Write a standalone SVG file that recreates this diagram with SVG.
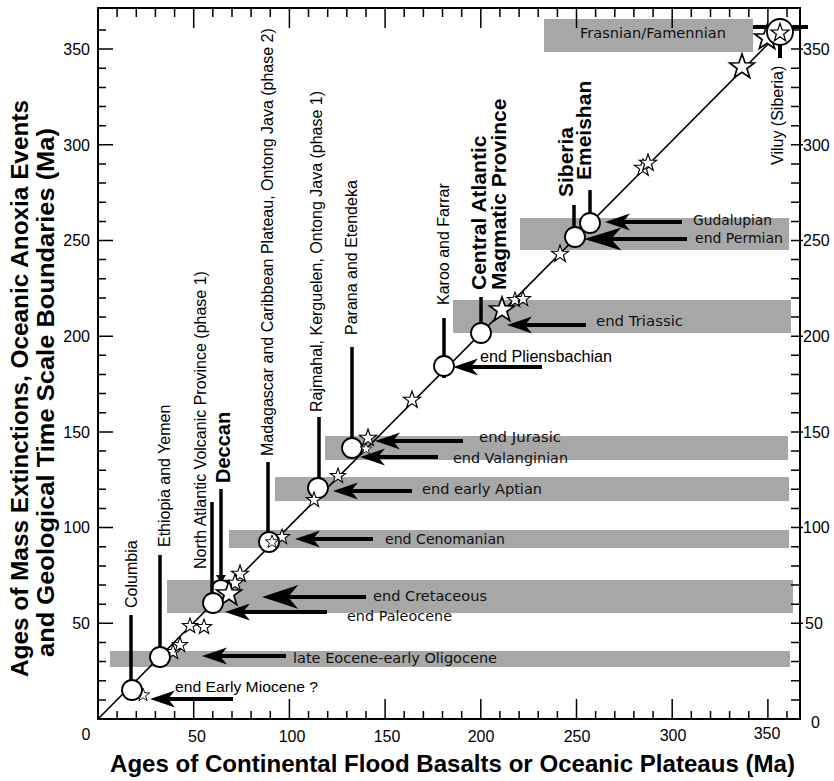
<svg xmlns="http://www.w3.org/2000/svg" xmlns:xlink="http://www.w3.org/1999/xlink" width="834" height="781" viewBox="0 0 834 781">
<style>
.band{fill:#a7a7a7}
.ax{fill:none;stroke:#000;stroke-width:2}
.tk{fill:none;stroke:#000;stroke-width:1.5}
.num{font-family:"Liberation Sans",Arial,sans-serif;font-size:16px;fill:#000}
.title{font-family:"Liberation Sans",Arial,sans-serif;font-size:24px;font-weight:bold;fill:#000}
.vl{font-family:"Liberation Sans",Arial,sans-serif;font-size:16px;fill:#000}
.vb{font-family:"Liberation Sans",Arial,sans-serif;font-size:21px;font-weight:bold;fill:#000}
.bl{font-family:"DejaVu Sans",Verdana,sans-serif;font-size:14.5px;fill:#111}
.hl{font-family:"Liberation Sans",Arial,sans-serif;font-size:16px;fill:#000}
.mk{stroke:#000;stroke-width:3.5;fill:none}
.diag{stroke:#000;stroke-width:1.6;fill:none}
.c{fill:#fff;stroke:#000;stroke-width:1.8}
.st{fill:#fff;stroke:#000;stroke-width:1.3;stroke-linejoin:miter}
.shaft{stroke:#000;stroke-width:4;fill:none}
.head{fill:#000}
</style>
<defs>
<path id="star" d="M0,-10 L2.35,-3.24 L9.51,-3.09 L3.8,1.24 L5.88,8.09 L0,4 L-5.88,8.09 L-3.8,1.24 L-9.51,-3.09 L-2.35,-3.24 Z"/>
<path id="ah" d="M0,0 Q12,-4 25,-8.5 L18,0 L25,8.5 Q12,4 0,0 Z"/>
</defs>

<g id="bands">
<rect class="band" x="544" y="19" width="209" height="33"/>
<rect class="band" x="520" y="218" width="269" height="32"/>
<rect class="band" x="453" y="300" width="338" height="33"/>
<rect class="band" x="325" y="436" width="463" height="24"/>
<rect class="band" x="275" y="477" width="514" height="24"/>
<rect class="band" x="229" y="530" width="560" height="18"/>
<rect class="band" x="167" y="580" width="626" height="33"/>
<rect class="band" x="110" y="651" width="680" height="16"/>
</g>

<g id="axes">
<path class="ax" d="M98,8 V719 H800 V8 Z"/>
<path class="tk" d="M98,699.9h8M98,680.7h8M98,661.6h8M98,642.4h8M98,623.3h15M98,604.2h8M98,585h8M98,565.9h8M98,546.7h8M98,527.6h15M98,508.5h8M98,489.3h8M98,470.2h8M98,451h8M98,431.9h15M98,412.8h8M98,393.6h8M98,374.5h8M98,355.3h8M98,336.2h15M98,317.1h8M98,297.9h8M98,278.8h8M98,259.6h8M98,240.5h15M98,221.4h8M98,202.2h8M98,183.1h8M98,163.9h8M98,144.8h15M98,125.7h8M98,106.5h8M98,87.4h8M98,68.2h8M98,49.1h15M98,30h8"/>
<path class="tk" d="M800,699.9h-9M800,680.7h-9M800,661.6h-9M800,642.4h-9M803,623.3h-12M800,604.2h-9M800,585h-9M800,565.9h-9M800,546.7h-9M803,527.6h-12M800,508.5h-9M800,489.3h-9M800,470.2h-9M800,451h-9M803,431.9h-12M800,412.8h-9M800,393.6h-9M800,374.5h-9M800,355.3h-9M803,336.2h-12M800,317.1h-9M800,297.9h-9M800,278.8h-9M800,259.6h-9M803,240.5h-12M800,221.4h-9M800,202.2h-9M800,183.1h-9M800,163.9h-9M803,144.8h-12M800,125.7h-9M800,106.5h-9M800,87.4h-9M800,68.2h-9M803,49.1h-12M800,30h-9"/>
<path class="tk" d="M117.1,719v-8M136.3,719v-8M155.4,719v-8M174.6,719v-8M193.7,719v-20M212.8,719v-8M232,719v-8M251.1,719v-8M270.3,719v-8M289.4,719v-20M308.5,719v-8M327.7,719v-8M346.8,719v-8M366,719v-8M385.1,719v-20M404.2,719v-8M423.4,719v-8M442.5,719v-8M461.7,719v-8M480.8,719v-20M499.9,719v-8M519.1,719v-8M538.2,719v-8M557.4,719v-8M576.5,719v-20M595.6,719v-8M614.8,719v-8M633.9,719v-8M653.1,719v-8M672.2,719v-20M691.3,719v-8M710.5,719v-8M729.6,719v-8M748.8,719v-8M767.9,719v-20M787,719v-8"/>
<path class="tk" d="M117.1,8v9M136.3,8v9M155.4,8v9M174.6,8v9M193.7,8v20M212.8,8v9M232,8v9M251.1,8v9M270.3,8v9M289.4,8v20M308.5,8v9M327.7,8v9M346.8,8v9M366,8v9M385.1,8v20M404.2,8v9M423.4,8v9M442.5,8v9M461.7,8v9M480.8,8v20M499.9,8v9M519.1,8v9M538.2,8v9M557.4,8v9M576.5,8v20M595.6,8v9M614.8,8v9M633.9,8v9M653.1,8v9M672.2,8v20M691.3,8v9M710.5,8v9M729.6,8v9M748.8,8v9M767.9,8v20M787,8v9"/>
<g class="num" text-anchor="end">
<text x="90" y="55">350</text><text x="90" y="151">300</text><text x="90" y="246">250</text><text x="90" y="342">200</text><text x="90" y="438">150</text><text x="90" y="533">100</text><text x="90" y="629">50</text>
</g>
<text class="num" x="86" y="740" text-anchor="middle">0</text>
<g class="num">
<text x="803" y="55">350</text><text x="803" y="151">300</text><text x="803" y="246">250</text><text x="803" y="342">200</text><text x="803" y="438">150</text><text x="803" y="533">100</text><text x="805" y="629">50</text><text x="811" y="728">0</text>
</g>
<g class="num" text-anchor="middle">
<text x="197" y="742">50</text><text x="292" y="742">100</text><text x="387" y="742">150</text><text x="481" y="742">200</text><text x="577" y="742">250</text><text x="673" y="741">300</text><text x="767" y="739">350</text>
</g>
<text class="title" x="110" y="772" textLength="685" lengthAdjust="spacingAndGlyphs">Ages of Continental Flood Basalts or Oceanic Plateaus (Ma)</text>
<text class="title" transform="translate(28,388.5) rotate(-90)" text-anchor="middle" textLength="577" lengthAdjust="spacingAndGlyphs">Ages of Mass Extinctions, Oceanic Anoxia Events</text>
<text class="title" transform="translate(54,392.5) rotate(-90)" text-anchor="middle" textLength="529" lengthAdjust="spacingAndGlyphs">and Geological Time Scale Boundaries (Ma)</text>
</g>

<g id="trend">
<line class="diag" x1="98" y1="719" x2="780" y2="32"/>
</g>

<g id="stars-back">
<use href="#star" class="st" transform="translate(143,695) scale(0.7)"/>
<use href="#star" class="st" transform="translate(173,652) scale(0.8)"/>
<use href="#star" class="st" transform="translate(180,645) scale(0.8)"/>
<use href="#star" class="st" transform="translate(190,626) scale(0.8)"/>
<use href="#star" class="st" transform="translate(204,627) scale(0.8)"/>
<use href="#star" class="st" transform="translate(240,574) scale(0.9)"/>
<use href="#star" class="st" transform="translate(235,583) scale(0.9)"/>
<use href="#star" class="st" transform="translate(282,537) scale(0.8)"/>
<use href="#star" class="st" transform="translate(338,476) scale(0.8)"/>
<use href="#star" class="st" transform="translate(412,400) scale(0.9)"/>
<use href="#star" class="st" transform="translate(515,300) scale(0.8)"/>
<use href="#star" class="st" transform="translate(523,299) scale(0.8)"/>
<use href="#star" class="st" transform="translate(560,254) scale(0.9)"/>
<use href="#star" class="st" transform="translate(643,168) scale(0.9)"/>
<use href="#star" class="st" transform="translate(648,163) scale(0.9)"/>
<use href="#star" class="st" transform="translate(742,67) scale(1.3)"/>
<use href="#star" class="st" transform="translate(767,38) scale(1.3)"/>
</g>

<g id="columbia">
<line class="mk" x1="131" y1="615" x2="131" y2="682"/>
<circle class="c" cx="132" cy="690" r="10"/>
<text class="vl" transform="translate(137,608) rotate(-90)">Columbia</text>
</g>
<g id="ethiopia">
<line class="mk" x1="160" y1="555" x2="160" y2="649"/>
<circle class="c" cx="160" cy="657" r="10"/>
<text class="vl" transform="translate(170,547) rotate(-90)">Ethiopia and Yemen</text>
</g>
<g id="deccan">
<line class="mk" x1="221" y1="489" x2="221" y2="576"/>
<path d="M216,575 L226,575 L221,583 Z" fill="#000"/>
<circle class="c" cx="221" cy="589" r="9"/>
<use href="#star" class="st" transform="translate(229,594) scale(1.3)"/>
<text class="vb" style="font-size:20px" transform="translate(230,483) rotate(-90)">Deccan</text>
</g>
<g id="navp">
<line class="mk" x1="212" y1="502" x2="212" y2="595"/>
<circle class="c" cx="213" cy="603" r="10"/>
<text class="vl" transform="translate(206,569) rotate(-90)">North Atlantic Volcanic Province (phase 1)</text>
</g>
<g id="madagascar">
<line class="mk" x1="268" y1="462" x2="268" y2="534"/>
<circle class="c" cx="269" cy="542" r="10"/>
<use href="#star" class="st" transform="translate(272,542) scale(0.7)"/>
<text class="vl" transform="translate(273,456) rotate(-90)">Madagascar and Caribbean Plateau, Ontong Java (phase 2)</text>
</g>
<g id="rajmahal">
<line class="mk" x1="319" y1="417" x2="319" y2="480"/>
<circle class="c" cx="318" cy="488" r="10"/>
<use href="#star" class="st" transform="translate(314,500) scale(0.8)"/>
<text class="vl" transform="translate(322,412) rotate(-90)">Rajmahal, Kerguelen, Ontong Java (phase 1)</text>
</g>
<g id="parana">
<line class="mk" x1="352" y1="347" x2="352" y2="440"/>
<circle class="c" cx="352" cy="448" r="10"/>
<use href="#star" class="st" transform="translate(368,438) scale(0.9)"/>
<use href="#star" class="st" transform="translate(366,449) scale(0.6)"/>
<text class="vl" transform="translate(357,335) rotate(-90)">Parana and Etendeka</text>
</g>
<g id="karoo">
<line class="mk" x1="444" y1="318" x2="444" y2="378"/>
<circle class="c" cx="444" cy="366" r="10"/>
<text class="vl" transform="translate(449,305) rotate(-90)">Karoo and Farrar</text>
</g>
<g id="camp">
<line class="mk" x1="481" y1="297" x2="481" y2="325"/>
<circle class="c" cx="481" cy="333" r="10"/>
<use href="#star" class="st" transform="translate(502,310) scale(1.3)"/>
<text class="vb" transform="translate(486,290) rotate(-90)">Central Atlantic</text>
<text class="vb" transform="translate(506,290) rotate(-90)">Magmatic Province</text>
</g>
<g id="emeishan">
<line class="mk" x1="590" y1="190" x2="590" y2="215"/>
<circle class="c" cx="590" cy="223" r="10"/>
<text class="vb" transform="translate(591,180) rotate(-90)">Emeishan</text>
</g>
<g id="siberia">
<line class="mk" x1="574" y1="205" x2="574" y2="229"/>
<circle class="c" cx="575" cy="237" r="10"/>
<text class="vb" transform="translate(573,197) rotate(-90)">Siberia</text>
</g>
<g id="viluy">
<line class="mk" style="stroke-width:4" x1="753" y1="27" x2="808" y2="27"/>
<line class="mk" style="stroke-width:4" x1="780" y1="40" x2="780" y2="58"/>
<circle class="c" cx="780" cy="32" r="13"/>
<use href="#star" class="st" transform="translate(780,33) scale(0.95)"/>
<text class="vl" transform="translate(783,165) rotate(-90)">Viluy (Siberia)</text>
</g>

<g id="connectors">
<line class="shaft" x1="165" y1="699" x2="233" y2="699"/><use href="#ah" class="head" x="150" y="699"/>
<line class="shaft" x1="217" y1="656" x2="286" y2="656"/><use href="#ah" class="head" x="202" y="656"/>
<line class="shaft" x1="240" y1="612" x2="327" y2="612"/><use href="#ah" class="head" x="225" y="612"/>
<line class="shaft" x1="285" y1="597" x2="366" y2="597"/><use href="#ah" class="head" transform="translate(262,597) scale(1.45,1.4)"/>
<line class="shaft" x1="310" y1="539" x2="373" y2="539"/><use href="#ah" class="head" x="295" y="539"/>
<line class="shaft" x1="348" y1="491" x2="412" y2="491"/><use href="#ah" class="head" x="333" y="491"/>
<line class="shaft" x1="375" y1="457" x2="438" y2="457"/><use href="#ah" class="head" x="360" y="457"/>
<line class="shaft" x1="390" y1="441" x2="463" y2="441"/><use href="#ah" class="head" x="375" y="441"/>
<line class="shaft" x1="468" y1="367" x2="542" y2="367"/><use href="#ah" class="head" x="453" y="367"/>
<line class="shaft" x1="522" y1="325" x2="586" y2="325"/><use href="#ah" class="head" x="507" y="325"/>
<line class="shaft" x1="620" y1="222" x2="682" y2="222"/><use href="#ah" class="head" x="605" y="222"/>
<line class="shaft" x1="606" y1="239" x2="687" y2="239"/><use href="#ah" class="head" transform="translate(584,239) scale(1.5,1.35)"/>
</g>

<g id="band-labels">
<text class="bl" x="580" y="38" textLength="146" lengthAdjust="spacingAndGlyphs">Frasnian/Famennian</text>
<text class="bl" x="693" y="225" textLength="79" lengthAdjust="spacingAndGlyphs">Gudalupian</text>
<text class="bl" x="695" y="243" textLength="88" lengthAdjust="spacingAndGlyphs">end Permian</text>
<text class="bl" x="596" y="326" textLength="87" lengthAdjust="spacingAndGlyphs">end Triassic</text>
<text class="hl" x="480" y="362" textLength="132" lengthAdjust="spacingAndGlyphs">end Pliensbachian</text>
<text class="bl" x="479" y="442" textLength="82" lengthAdjust="spacingAndGlyphs">end Jurasic</text>
<text class="bl" x="453" y="463" textLength="115" lengthAdjust="spacingAndGlyphs">end Valanginian</text>
<text class="bl" x="422" y="494" textLength="120" lengthAdjust="spacingAndGlyphs">end early Aptian</text>
<text class="bl" x="385" y="544" textLength="120" lengthAdjust="spacingAndGlyphs">end Cenomanian</text>
<text class="bl" x="373" y="601" textLength="114" lengthAdjust="spacingAndGlyphs">end Cretaceous</text>
<text class="bl" x="347" y="621" textLength="105" lengthAdjust="spacingAndGlyphs">end Paleocene</text>
<text class="bl" x="293" y="663" textLength="204" lengthAdjust="spacingAndGlyphs">late Eocene-early Oligocene</text>
<text class="hl" style="font-size:15.5px" x="175" y="692" textLength="143" lengthAdjust="spacingAndGlyphs">end Early Miocene ?</text>
</g>
</svg>
